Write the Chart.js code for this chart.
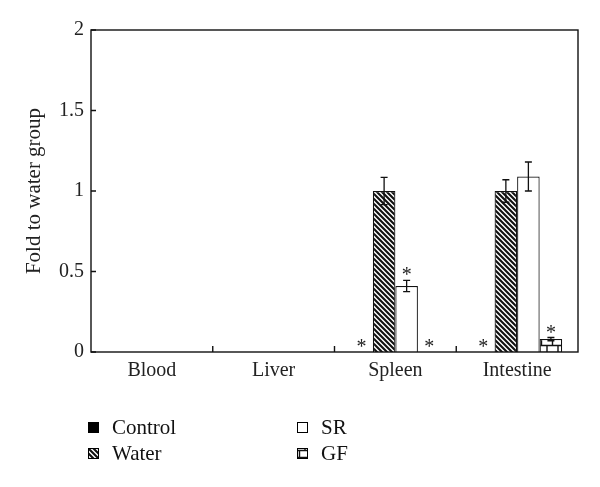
<!DOCTYPE html>
<html>
<head>
<meta charset="utf-8">
<script src="https://cdn.jsdelivr.net/npm/chart.js@4/dist/chart.umd.min.js"></script>
<style>
  body { margin: 0; background: #fff; }
  #wrap { position: relative; width: 600px; height: 487px; }
  .leg { position: absolute; font-family: "Liberation Serif", "DejaVu Serif", serif; font-size: 21px; color: #111; display: flex; align-items: center; }
  .leg canvas { margin-right: 13px; }
</style>
</head>
<body>
<div id="wrap">
  <canvas id="chart" width="600" height="487"></canvas>
  <div class="leg" style="left:88px;top:415px"><canvas id="sw0" width="11" height="11"></canvas>Control</div>
  <div class="leg" style="left:88px;top:441px"><canvas id="sw1" width="11" height="11"></canvas>Water</div>
  <div class="leg" style="left:297px;top:415px"><canvas id="sw2" width="11" height="11"></canvas>SR</div>
  <div class="leg" style="left:297px;top:441px"><canvas id="sw3" width="11" height="11"></canvas>GF</div>
</div>
<script>
const categories = ['Blood', 'Liver', 'Spleen', 'Intestine'];
const yTicks = [0, 0.5, 1, 1.5, 2];

const controlVals = [0, 0, 0, 0];
const waterVals = [0, 0, 1.0, 1.0];
const srVals = [0, 0, 0.41, 1.09];
const gfVals = [0, 0, 0, 0.08];

const controlErr = [0, 0, 0, 0];
const waterErr = [0, 0, 0.085, 0.07];
const srErr = [0, 0, 0.035, 0.09];
const gfErr = [0, 0, 0, 0.01];

// significance marks
const controlStar = [false, false, true, true];
const waterStar = [false, false, false, false];
const srStar = [false, false, true, false];
const gfStar = [false, false, true, true];

const serif = '"Liberation Serif", "DejaVu Serif", serif';

function hatchPattern(c) {
  const t = document.createElement('canvas');
  t.width = 5; t.height = 5;
  const g = t.getContext('2d');
  g.fillStyle = '#fff'; g.fillRect(0, 0, 5, 5);
  g.strokeStyle = '#111'; g.lineWidth = 2.1;
  g.beginPath();
  g.moveTo(-1, -1); g.lineTo(6, 6);
  g.moveTo(-1, 4); g.lineTo(1, 6);
  g.moveTo(4, -1); g.lineTo(6, 1);
  g.stroke();
  return c.createPattern(t, 'repeat');
}

function brickPattern(c) {
  const t = document.createElement('canvas');
  t.width = 11; t.height = 14;
  const g = t.getContext('2d');
  g.fillStyle = '#fff'; g.fillRect(0, 0, 11, 14);
  g.strokeStyle = '#111'; g.lineWidth = 1.4;
  g.beginPath();
  g.moveTo(0, 2.5); g.lineTo(11, 2.5);
  g.moveTo(0, 9.5); g.lineTo(11, 9.5);
  g.moveTo(2.5, 2.5); g.lineTo(2.5, 9.5);
  g.moveTo(8, 9.5); g.lineTo(8, 14);
  g.moveTo(8, 0); g.lineTo(8, 2.5);
  g.stroke();
  return c.createPattern(t, 'repeat');
}

const ctx = document.getElementById('chart').getContext('2d');
const fills = ['#000', hatchPattern(ctx), '#fff', brickPattern(ctx)];

// legend swatches
['sw0', 'sw1', 'sw2', 'sw3'].forEach((id, i) => {
  const g = document.getElementById(id).getContext('2d');
  const f = [ '#000', hatchPattern(g), '#fff', brickPattern(g) ][i];
  g.fillStyle = f; g.fillRect(0, 0, 11, 11);
  g.strokeStyle = '#000'; g.lineWidth = 1; g.strokeRect(0.5, 0.5, 10, 10);
});

const errs = [controlErr, waterErr, srErr, gfErr];
const stars = [controlStar, waterStar, srStar, gfStar];

const extras = {
  id: 'extras',
  afterDatasetsDraw(chart) {
    const c = chart.ctx;
    const ys = chart.scales.y;
    const xs = chart.scales.x;
    const a = chart.chartArea;
    c.save();
    c.strokeStyle = '#111';
    c.lineWidth = 1.3;
    // error bars
    chart.data.datasets.forEach((ds, di) => {
      const meta = chart.getDatasetMeta(di);
      meta.data.forEach((bar, i) => {
        const e = errs[di][i];
        const v = ds.data[i];
        let top = ys.getPixelForValue(v);
        if (e > 0) {
          const y1 = ys.getPixelForValue(v + e);
          const y2 = ys.getPixelForValue(v - e);
          c.beginPath();
          c.moveTo(bar.x, y1); c.lineTo(bar.x, y2);
          c.moveTo(bar.x - 3.5, y1); c.lineTo(bar.x + 3.5, y1);
          c.moveTo(bar.x - 3.5, y2); c.lineTo(bar.x + 3.5, y2);
          c.stroke();
          top = y1;
        }
        if (stars[di][i]) {
          c.fillStyle = '#222';
          c.font = '20px ' + serif;
          c.textAlign = 'center';
          c.textBaseline = 'alphabetic';
          c.fillText('*', bar.x, top + 1);
        }
      });
    });
    // frame
    c.lineWidth = 1.4;
    c.strokeStyle = '#111';
    c.strokeRect(a.left, a.top, a.right - a.left, a.bottom - a.top);
    // inward ticks
    c.beginPath();
    yTicks.forEach(t => {
      const y = ys.getPixelForValue(t);
      c.moveTo(a.left, y); c.lineTo(a.left + 5, y);
    });
    for (let i = 1; i < categories.length; i++) {
      const x = (xs.getPixelForValue(i - 1) + xs.getPixelForValue(i)) / 2;
      c.moveTo(x, a.bottom); c.lineTo(x, a.bottom - 6);
    }
    c.stroke();
    c.restore();
  }
};

new Chart(ctx, {
  type: 'bar',
  data: {
    labels: categories,
    datasets: [
      { label: 'Control', data: controlVals, backgroundColor: fills[0] },
      { label: 'Water', data: waterVals, backgroundColor: fills[1] },
      { label: 'SR', data: srVals, backgroundColor: fills[2] },
      { label: 'GF', data: gfVals, backgroundColor: fills[3] }
    ].map(d => Object.assign(d, {
      borderColor: '#111', borderWidth: 1.2, borderSkipped: 'bottom',
      categoryPercentage: 0.74, barPercentage: 1
    }))
  },
  options: {
    responsive: false,
    animation: false,
    layout: { padding: { left: 0, top: 30, right: 22, bottom: 90 } },
    plugins: { legend: { display: false }, tooltip: { enabled: false } },
    scales: {
      x: {
        grid: { display: false, drawTicks: false, tickLength: 0 },
        border: { display: false },
        ticks: { color: '#222', font: { family: serif, size: 20 }, padding: 7 },
        afterFit(s) { s.height = 45; }
      },
      y: {
        min: 0, max: 2,
        grid: { display: false, drawTicks: false, tickLength: 0 },
        border: { display: false },
        ticks: {
          stepSize: 0.5, color: '#222', padding: 7,
          font: { family: serif, size: 20 },
          callback: v => String(v)
        },
        title: {
          display: true, text: 'Fold to water group', color: '#222',
          font: { family: serif, size: 21 }, padding: { top: 22, bottom: 0 }
        },
        afterFit(s) { s.width = 91; }
      }
    }
  },
  plugins: [extras]
});
</script>
</body>
</html>
